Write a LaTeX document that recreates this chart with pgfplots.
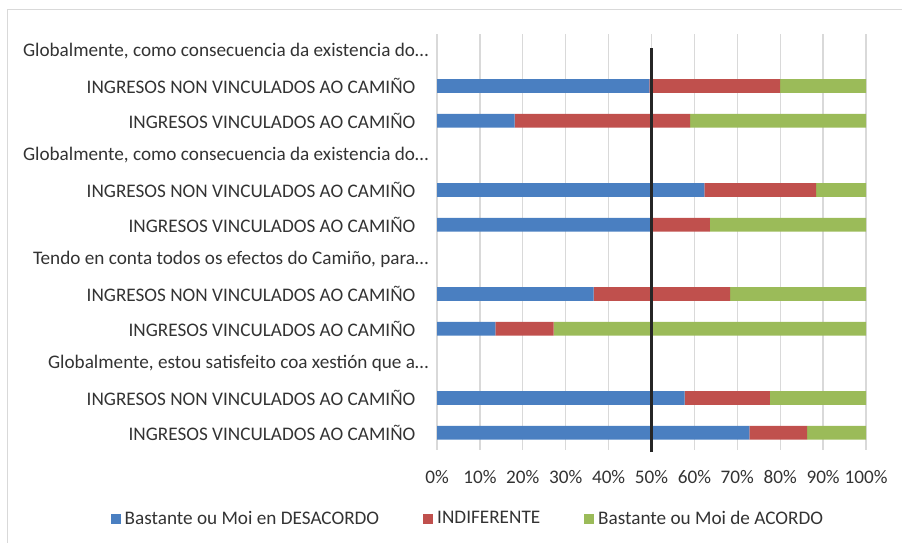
\documentclass[border=0pt]{standalone}
\usepackage{pgfplots}
\pgfplotsset{compat=1.18}
\usepackage{fontspec}
\setmainfont{Carlito}
\definecolor{cblue}{HTML}{4A7FC1}
\definecolor{cred}{HTML}{C0504D}
\definecolor{cgreen}{HTML}{9BBB59}
\definecolor{ctext}{HTML}{333333}
\definecolor{cgrid}{HTML}{D9D9D9}
\newcommand{\fs}{\fontsize{19.2bp}{23bp}\selectfont}
\newcommand{\pad}{\rule{13bp}{0pt}}
\begin{document}
\fs
\begin{tikzpicture}[x=1bp,y=1bp]
\path[use as bounding box] (0,0) rectangle (902,543);
\draw[cgrid, line width=1bp] (7,0) -- (7,533) -- (902,533);
\begin{axis}[
  at={(437bp,93bp)}, anchor=south west,
  width=429bp, height=416bp, scale only axis,
  xbar stacked, bar width=13.7bp,
  xmin=0, xmax=100, ymin=-0.5, ymax=11.5,
  clip=false,
  axis line style={draw=none},
  major tick length=0pt,
  xtick={0,10,...,100},
  xticklabel={\pgfmathprintnumber{\tick}\%},
  xmajorgrids, major grid style={cgrid, line width=1.3bp},
  ytick={0,...,11},
  yticklabels={
    INGRESOS VINCULADOS AO CAMIÑO\pad,
    INGRESOS NON VINCULADOS AO CAMIÑO\pad,
    {Globalmente, estou satisfeito coa xestión que a…},
    INGRESOS VINCULADOS AO CAMIÑO\pad,
    INGRESOS NON VINCULADOS AO CAMIÑO\pad,
    {Tendo en conta todos os efectos do Camiño, para…},
    INGRESOS VINCULADOS AO CAMIÑO\pad,
    INGRESOS NON VINCULADOS AO CAMIÑO\pad,
    {Globalmente, como consecuencia da existencia do…},
    INGRESOS VINCULADOS AO CAMIÑO\pad,
    INGRESOS NON VINCULADOS AO CAMIÑO\pad,
    {Globalmente, como consecuencia da existencia do…}},
  yticklabel style={font=\fs, text=ctext, xshift=-2bp},
  xticklabel style={font=\fs, text=ctext, yshift=-14bp},
  /pgf/number format/assume math mode=true,
  legend style={at={(0.072,-0.166)}, anchor=center, draw=none,
    legend columns=-1, font=\fs, text=ctext,
    /tikz/every even column/.append style={column sep=42bp},
    /tikz/every odd column/.append style={column sep=2bp},
    inner sep=0pt},
  legend image code/.code={\fill[#1] (0bp,-5bp) rectangle (10bp,5bp);},
]
\addplot[fill=cblue, draw=none] coordinates {(72.8,0) (57.7,1) (13.6,3) (36.5,4) (49.7,6) (62.3,7) (18.1,9) (49.5,10)};
\addplot[fill=cred, draw=none] coordinates {(13.5,0) (19.9,1) (13.6,3) (31.8,4) (13.9,6) (26.1,7) (40.9,9) (30.5,10)};
\addplot[fill=cgreen, draw=none] coordinates {(13.7,0) (22.4,1) (72.8,3) (31.7,4) (36.4,6) (11.6,7) (41.0,9) (20.0,10)};
\legend{Bastante ou Moi en DESACORDO, INDIFERENTE, Bastante ou Moi de ACORDO}
\end{axis}
\begin{axis}[
  at={(437bp,93bp)}, anchor=south west,
  width=429bp, height=416bp, scale only axis,
  xmin=0, xmax=100, ymin=-0.5, ymax=11.5, clip=false,
  hide axis]
\addplot[color={black!85}, line width=3bp] coordinates {(50,-0.558) (50,11.096)};
\end{axis}
\end{tikzpicture}
\end{document}
